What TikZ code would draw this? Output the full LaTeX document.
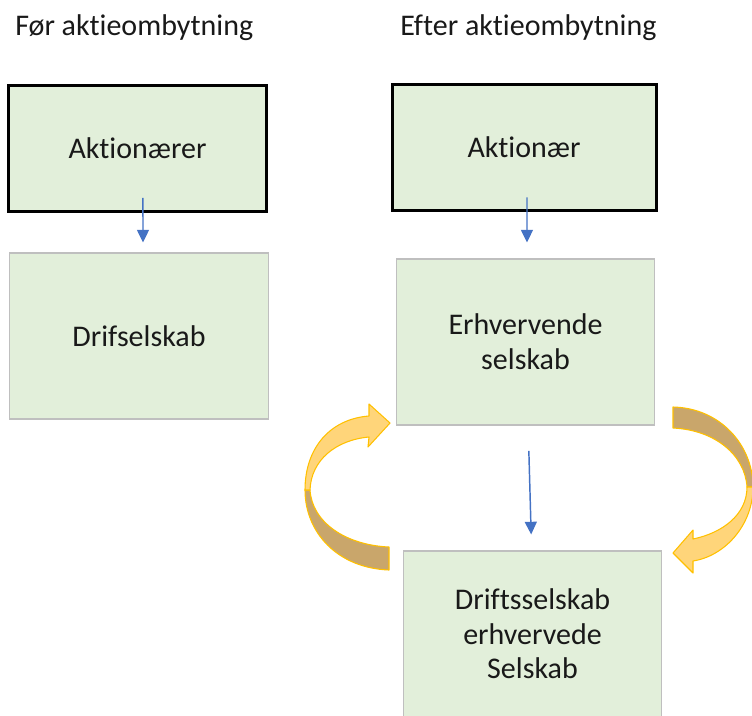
\documentclass[tikz,border=0pt]{standalone}
\usepackage{fontspec}
\setmainfont[Ligatures=NoCommon]{Carlito}
\usetikzlibrary{arrows.meta}
\definecolor{boxgreen}{HTML}{E2EFDA}
\definecolor{boxgray}{HTML}{BFBFBF}
\definecolor{flowblue}{HTML}{4472C4}
\definecolor{ribbonlight}{HTML}{FFD57A}
\definecolor{ribbondark}{HTML}{C9A66B}
\definecolor{ribbonedge}{HTML}{FFC000}
\begin{document}
\begin{tikzpicture}[x=0.75pt,y=-0.75pt,
  every node/.style={font=\fontsize{22.5pt}{26pt}\selectfont, text=black!90},
  title/.style={anchor=west, inner sep=0pt},
  ownerbox/.style={draw=black, line width=2.25pt, fill=boxgreen,
    minimum width=194pt, minimum height=94.5pt, inner sep=0pt},
  companybox/.style={draw=boxgray, line width=0.8pt, fill=boxgreen,
    minimum width=194pt, minimum height=124.5pt, inner sep=0pt, align=center},
  flow/.style={draw=flowblue, line width=1.1pt, -{Triangle[width=9pt,length=9.5pt]}},
  ribbon/.style={draw=ribbonedge, line width=0.8pt, line join=round}
]
\useasboundingbox (0,0) rectangle (752,715);

% headings
\node[title] (t1) at (15,28) {Før aktieombytning};
\node[title] (t2) at (400,28) {Efter aktieombytning};

% before the share exchange
\node[ownerbox] (A1) at (137.5,148) {Aktionærer};
\node[companybox] (D1) at (139,336) {Drifselskab};
\draw[flow] ([xshift=4.1pt,yshift=11pt]A1.south) -- ([xshift=3pt,yshift=7.5pt]D1.north);

% after the share exchange
\node[ownerbox, minimum width=198pt] (A2) at (524,147.5) {Aktionær};
\node[companybox] (E) at (525.5,342) {Erhvervende\\selskab};
\node[companybox] (F) at (532.5,634) {Driftsselskab\\erhvervede\\Selskab};
\draw[flow] ([xshift=2.25pt,yshift=11pt]A2.south) -- ([xshift=1.1pt,yshift=12pt]E.north);
\draw[flow] ([xshift=2.5pt,yshift=-19pt]E.south) -- ([xshift=-1pt,yshift=12pt]F.north);

% left curved arrow: back part (darker) then front part with head
\filldraw[ribbon, fill=ribbondark]
  (305,490) .. controls (305,532) and (337,568) .. (389,570)
  -- (389,547)
  .. controls (345,545) and (312,522) .. (310,490) -- cycle;
\filldraw[ribbon, fill=ribbonlight]
  (305,490) .. controls (305,448) and (330,419) .. (369,416)
  -- (369,404) -- (390,423) -- (368,447) -- (369,437)
  .. controls (336,440) and (311,460) .. (310,490) -- cycle;

% right curved arrow
\filldraw[ribbon, fill=ribbondark]
  (673,407) .. controls (720,408) and (753,445) .. (753,487)
  -- (747,487)
  .. controls (745,455) and (715,430) .. (673,428) -- cycle;
\filldraw[ribbon, fill=ribbonlight]
  (753,487) .. controls (753,525) and (725,556) .. (693,561)
  -- (693,573) -- (673,553) -- (693,530) -- (693,539)
  .. controls (722,533) and (747,515) .. (747,487) -- cycle;
\end{tikzpicture}
\end{document}
